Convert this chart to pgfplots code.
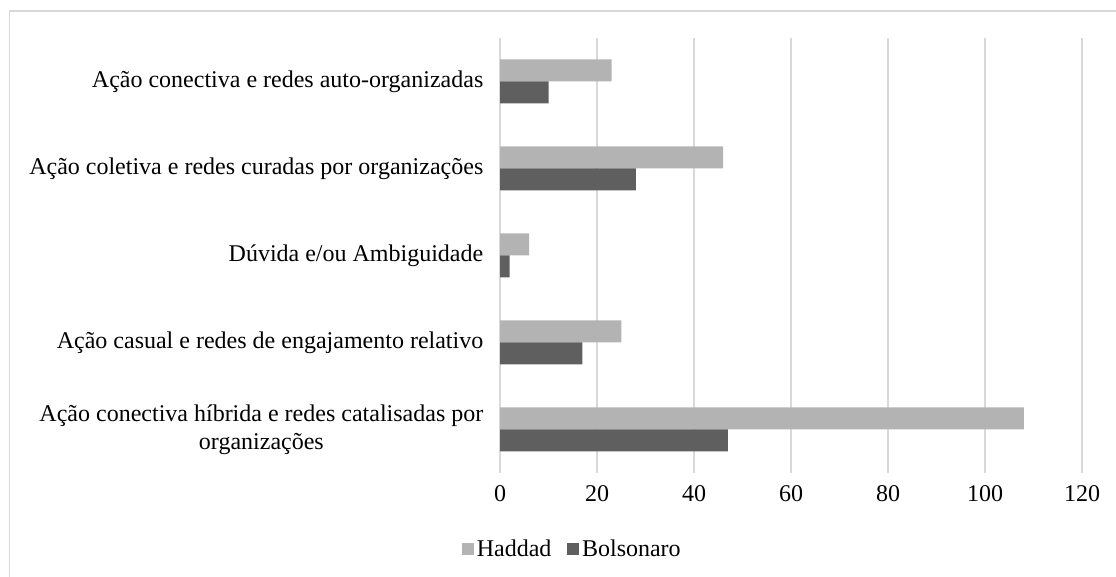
\documentclass[border=0pt]{standalone}
\usepackage{fontspec}
\setmainfont{Liberation Serif}
\usepackage{pgfplots}
\pgfplotsset{compat=1.18}
\definecolor{hadd}{RGB}{179,179,179}
\definecolor{bols}{RGB}{95,95,95}
\definecolor{gridc}{RGB}{217,217,217}
\begin{document}
\begin{tikzpicture}
\useasboundingbox (0,0) rectangle (837pt,432.75pt);
\draw[gridc, line width=1.1pt] (7.1pt,-5pt) -- (7.1pt,424.5pt) -- (845pt,424.5pt);
\begin{axis}[
  at={(375pt,78pt)}, anchor=south west,
  xbar, scale only axis,
  width=436.5pt, height=326.25pt,
  xmin=0, xmax=120, ymin=-0.5, ymax=4.5,
  xtick={0,20,...,120}, ytick={0,1,2,3,4},
  yticklabels={{Ação conectiva híbrida e redes catalisadas por\\organizações},
    {Ação casual e redes de engajamento relativo},
    {Dúvida e/ou Ambiguidade},
    {Ação coletiva e redes curadas por organizações},
    {Ação conectiva e redes auto-organizadas}},
  bar width=16.5pt,
  axis line style={draw=none},
  major tick length=0pt,
  xmajorgrids, grid style={gridc, line width=0.8pt},
  font=\fontsize{18}{21}\selectfont,
  tick label style={font=\fontsize{18}{21}\selectfont},
  yticklabel style={align=center, xshift=-9pt},
  xticklabel style={yshift=-5.5pt},
  /pgf/number format/assume math mode=true,
  legend columns=2,
  legend style={at={(axis description cs:0.125,-0.175)}, anchor=center, draw=none,
    font=\fontsize{18}{20}\selectfont, inner sep=1pt,
    /tikz/every even column/.append style={column sep=10pt}},
  legend image code/.code={\fill[#1] (0pt,-4.5pt) rectangle (9pt,4.5pt);},
]
\addplot[fill=hadd, draw=none, bar shift=8.25pt] coordinates {(108,0) (25,1) (6,2) (46,3) (23,4)};
\addplot[fill=bols, draw=none, bar shift=-8.25pt] coordinates {(47,0) (17,1) (2,2) (28,3) (10,4)};
\legend{Haddad, Bolsonaro}
\end{axis}
\end{tikzpicture}
\end{document}
